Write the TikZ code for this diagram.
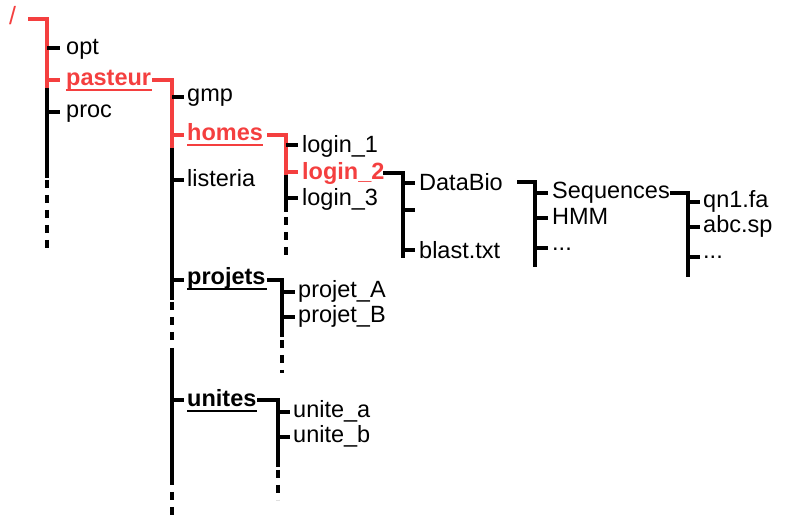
\documentclass[tikz,border=0pt]{standalone}
\usepackage{fontspec}
\setmainfont{Liberation Sans}
\definecolor{myred}{RGB}{244,63,63}
\begin{document}
\begin{tikzpicture}[x=1pt,y=-1pt,
  tree/.style={line width=3.5pt,line cap=butt},
  rtree/.style={tree,draw=myred,line width=4pt},
  dots/.style={tree,dash pattern=on 8pt off 7pt},
  uline/.style={line width=2pt},
  lbl/.style={anchor=base west,inner sep=0pt,font=\fontsize{23.5}{28}\selectfont},
  dirl/.style={lbl,font=\fontsize{23.5}{28}\selectfont\bfseries},
  rdir/.style={dirl,text=myred}]
\useasboundingbox (0,0) rectangle (785,526);
% labels
\node[lbl,text=myred,font=\fontsize{25}{28}\selectfont] (root) at (9,25) {/};
\node[lbl] (opt) at (66,55) {opt};
\node[rdir] (pasteur) at (66,86) {pasteur};
\node[lbl] (proc) at (66,118) {proc};
\node[lbl] (gmp) at (187,102) {gmp};
\node[rdir] (homes) at (187,141) {homes};
\node[lbl] (listeria) at (187,187) {listeria};
\node[dirl] (projets) at (187,285) {projets};
\node[dirl] (unites) at (187,407) {unites};
\node[lbl] (login1) at (302,153) {login\_1};
\node[rdir] (login2) at (302,180) {login\_2};
\node[lbl] (login3) at (302,206) {login\_3};
\node[lbl] (databio) at (419,191) {DataBio};
\node[lbl] (blast) at (419,259) {blast.txt};
\node[lbl] (seq) at (552,199) {Sequences};
\node[lbl] (hmm) at (552,225) {HMM};
\node[lbl] (etc1) at (552,251) {...};
\node[lbl] (qn) at (703,208) {qn1.fa};
\node[lbl] (abc) at (703,233) {abc.sp};
\node[lbl] (etc2) at (703,259) {...};
\node[lbl] (pa) at (298,298) {projet\_A};
\node[lbl] (pb) at (298,323) {projet\_B};
\node[lbl] (ua) at (293,418) {unite\_a};
\node[lbl] (ub) at (293,443) {unite\_b};
% underlines
\draw[uline,myred] (66,90) -- (152,90);
\draw[uline,myred] (187,145) -- (263,145);
\draw[uline] (187,289) -- (267,289);
\draw[uline] (187,411) -- (257,411);
% root
\draw[rtree] (28,19) -- (47,19) -- (47,88);
\draw[tree] (47,88) -- (47,178);
\draw[dots] (47,180) -- (47,248);
\draw[tree] (47,48) -- (60,48);
\draw[rtree] (47,80) -- (60,80);
\draw[tree] (47,112) -- (60,112);
% pasteur
\draw[rtree] (152,80) -- (172,80) -- (172,148);
\draw[tree] (172,148) -- (172,300);
\draw[dots] (172,302) -- (172,342);
\draw[tree] (172,348) -- (172,485);
\draw[dots] (172,492) -- (172,518);
\draw[tree] (172,97) -- (184,97);
\draw[rtree] (172,135) -- (184,135);
\draw[tree] (172,180) -- (184,180);
\draw[tree] (172,280) -- (184,280);
\draw[tree] (172,400) -- (184,400);
% homes
\draw[rtree] (267,135) -- (286,135) -- (286,175);
\draw[tree] (286,175) -- (286,212);
\draw[dots] (286,217) -- (286,260);
\draw[tree] (286,145) -- (298,145);
\draw[rtree] (286,172) -- (298,172);
\draw[tree] (286,198) -- (298,198);
% login_2
\draw[tree] (383,173) -- (403,173) -- (403,258);
\draw[tree] (403,183) -- (415,183);
\draw[tree] (403,210) -- (415,210);
\draw[tree] (403,250) -- (415,250);
% DataBio
\draw[tree] (517,182) -- (535,182) -- (535,267);
\draw[tree] (535,193) -- (548,193);
\draw[tree] (535,218) -- (548,218);
\draw[tree] (535,248) -- (548,248);
% Sequences
\draw[tree] (670,193) -- (688,193) -- (688,277);
\draw[tree] (688,202) -- (700,202);
\draw[tree] (688,227) -- (700,227);
\draw[tree] (688,257) -- (700,257);
% projets
\draw[tree] (267,280) -- (282,280) -- (282,337);
\draw[dots] (282,340) -- (282,373);
\draw[tree] (282,292) -- (295,292);
\draw[tree] (282,317) -- (295,317);
% unites
\draw[tree] (257,400) -- (278,400) -- (278,467);
\draw[dots] (278,470) -- (278,500);
\draw[tree] (278,412) -- (290,412);
\draw[tree] (278,437) -- (290,437);
\end{tikzpicture}
\end{document}
